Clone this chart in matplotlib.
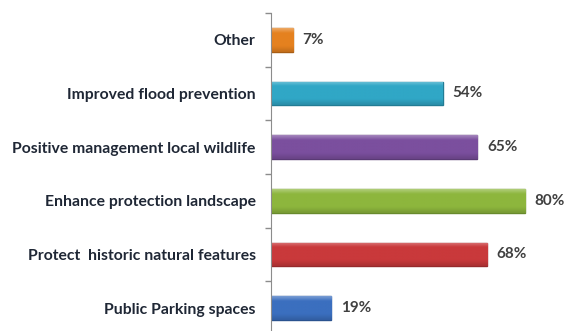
import matplotlib.pyplot as plt
import numpy as np
from matplotlib.colors import to_rgb

# survey answers, bottom to top
categories = ['Public Parking spaces', 'Protect  historic natural features',
              'Enhance protection landscape', 'Positive management local wildlife',
              'Improved flood prevention', 'Other']
values = [19, 68, 80, 65, 54, 7]
bar_colors = ['#3b6fbf', '#c9393b', '#8db63d', '#7b4f9e', '#30a7c6', '#e5811f']
edge_colors = ['#2a528f', '#96292b', '#688a2c', '#5a3a75', '#227c94', '#a85d14']

plt.rcParams['font.family'] = ['Lato', 'DejaVu Sans']

fig = plt.figure(figsize=(5.65, 3.31), dpi=100)
ax = fig.add_axes([0.4796, -0.012, 0.506, 0.9727])

y = np.arange(len(categories))
bars = ax.barh(y, values, height=0.44, color=bar_colors, edgecolor=edge_colors, linewidth=1)

# shaded look: thin light strip on top, slightly darker towards the bottom
for bar, c in zip(bars, bar_colors):
    base = np.array(to_rgb(c))
    t = np.linspace(0, 1, 32)[:, None]
    light = np.clip(base + 0.3 * (1 - base), 0, 1)
    dark = base * 0.85
    shade = np.where(t < 0.2, light + (base - light) * (t / 0.2),
                     np.where(t < 0.75, base, base + (dark - base) * ((t - 0.75) / 0.25)))
    x0, y0 = bar.get_x(), bar.get_y()
    w, h = bar.get_width(), bar.get_height()
    img = ax.imshow(shade[:, None, :], extent=[x0, x0 + w, y0, y0 + h],
                    aspect='auto', zorder=bar.get_zorder() + 0.1)
    img.set_clip_path(bar)

for yi, v in zip(y, values):
    ax.text(v + 3, yi, f'{v}%', va='center', ha='left', fontsize=11,
            fontweight='bold', color='#404040')

ax.set_xlim(0, 90)
ax.set_ylim(-0.5, len(categories) - 0.5)
ax.set_yticks(y)
ax.set_yticklabels(categories, fontsize=11.3, fontweight='bold', color='#1f2735')
ax.tick_params(axis='y', which='major', length=0, pad=11)
ax.set_yticks(np.arange(-0.5, len(categories)), minor=True)
ax.tick_params(axis='y', which='minor', length=4, color='#8c8c8c', width=1)
ax.set_xticks([])
for side in ['top', 'right', 'bottom']:
    ax.spines[side].set_visible(False)
ax.spines['left'].set_color('#8c8c8c')

fig.savefig('out.png', dpi=100)
